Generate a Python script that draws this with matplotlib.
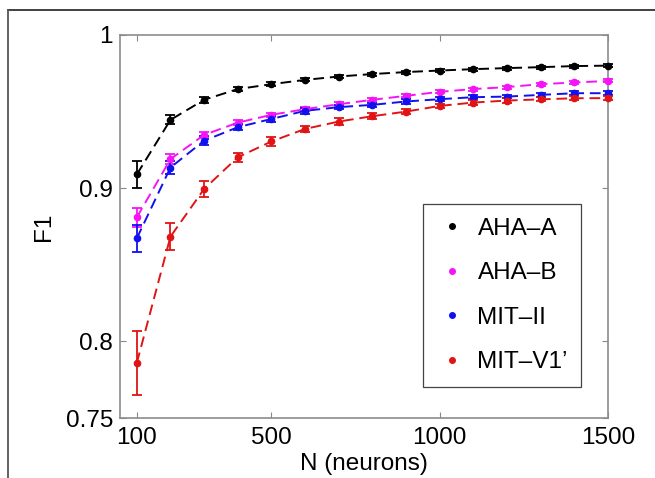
#F1 score vs number of neurons for the four models

import numpy as np
import matplotlib
matplotlib.use('Agg')
import matplotlib.pyplot as plt
from matplotlib.lines import Line2D

# data
neurons = [100, 200, 300, 400, 500, 600, 700, 800, 900, 1000, 1100, 1200, 1300, 1400, 1500]

aha_a = [0.909, 0.9446, 0.9577, 0.9647, 0.9679, 0.9707, 0.9729, 0.9745, 0.9758,
         0.9768, 0.9777, 0.9784, 0.9790, 0.9797, 0.9800]
aha_a_err = [0.009, 0.003, 0.002, 0.0015, 0.0012, 0.001, 0.001, 0.001, 0.001,
             0.001, 0.001, 0.001, 0.001, 0.001, 0.001]

aha_b = [0.881, 0.919, 0.9348, 0.9428, 0.9479, 0.9516, 0.9548, 0.9577, 0.9603,
         0.9629, 0.9647, 0.9660, 0.9679, 0.9690, 0.9700]
aha_b_err = [0.006, 0.003, 0.002, 0.0015, 0.0015, 0.0012, 0.0012, 0.001, 0.001,
             0.001, 0.001, 0.001, 0.001, 0.001, 0.001]

mit_ii = [0.8673, 0.9135, 0.931, 0.9398, 0.9452, 0.9505, 0.9529, 0.9544, 0.9566,
          0.9581, 0.9594, 0.9598, 0.9609, 0.9620, 0.9620]
mit_ii_err = [0.009, 0.004, 0.003, 0.002, 0.002, 0.002, 0.0015, 0.0015, 0.0015,
              0.0015, 0.0012, 0.0012, 0.0012, 0.0012, 0.0012]

mit_v1 = [0.786, 0.8684, 0.8995, 0.9202, 0.9305, 0.9387, 0.9435, 0.947, 0.950,
          0.9537, 0.9559, 0.9572, 0.958, 0.9587, 0.9588]
mit_v1_err = [0.021, 0.009, 0.005, 0.003, 0.003, 0.002, 0.002, 0.002, 0.0018,
              0.0015, 0.0015, 0.0015, 0.0012, 0.0012, 0.0012]

labels = ['AHA\u2013A', 'AHA\u2013B', 'MIT\u2013II', 'MIT\u2013V1\u2019']
colors = ['#000000', '#f514f5', '#1010f0', '#e01414']
series = [(aha_a, aha_a_err), (aha_b, aha_b_err), (mit_ii, mit_ii_err), (mit_v1, mit_v1_err)]

xticks = [100, 500, 1000, 1500]
yticks = [0.75, 0.8, 0.9, 1.0]
ytick_labels = ['0.75', '0.8', '0.9', '1']

fs = 17.5
plt.rcParams['font.family'] = ['Liberation Sans', 'DejaVu Sans']

fig = plt.figure(figsize=(6.55, 4.78), dpi=100)
ax = fig.add_axes([0.1832, 0.1255, 0.745, 0.8013])

# one dashed errorbar line per model
for (vals, errs), c in zip(series, colors):
    ax.errorbar(neurons, vals, yerr=errs, color=c, ecolor=c, marker='o',
                markersize=4.5, linestyle=(0, (5.5, 3)), linewidth=1.4,
                elinewidth=1.3, capsize=3.6, capthick=1.3, clip_on=False, zorder=3)

ax.set_xlim(50, 1500)
ax.set_ylim(0.75, 1.0)
ax.set_xticks(xticks)
ax.set_xticklabels([str(t) for t in xticks], fontsize=fs)
ax.set_yticks(yticks)
ax.set_yticklabels(ytick_labels, fontsize=fs)
ax.tick_params(direction='in', length=4, width=0.8, color='#888888',
               top=True, right=True, pad=5)
ax.tick_params(axis='x', pad=6.5)
for s in ax.spines.values():
    s.set_color('#8c8c8c')
    s.set_linewidth(1.2)

ax.set_xlabel('N (neurons)', fontsize=fs, labelpad=3)
ax.set_ylabel('F1', fontsize=fs)
ax.yaxis.set_label_coords(-0.133, 0.5)

# legend shows only the dots
handles = [Line2D([], [], marker='o', markersize=4, linestyle='none', color=c)
           for c in colors]
leg = ax.legend(handles, labels, loc='upper left', bbox_to_anchor=(0.62, 0.559),
                borderaxespad=0, fontsize=fs, labelspacing=0.93, borderpad=0.56,
                handlelength=1.3, handletextpad=0.4, fancybox=False,
                framealpha=1, edgecolor='#444444')
leg.get_frame().set_linewidth(0.9)

# outer frame lines (top and left) of the original figure
fig.add_artist(Line2D([0.0122, 1.0], [0.979, 0.979], transform=fig.transFigure,
                      color='#333333', linewidth=1.3))
fig.add_artist(Line2D([0.0122, 0.0122], [0.0, 0.979], transform=fig.transFigure,
                      color='#555555', linewidth=1.3))

plt.savefig('out.png', dpi=100)
